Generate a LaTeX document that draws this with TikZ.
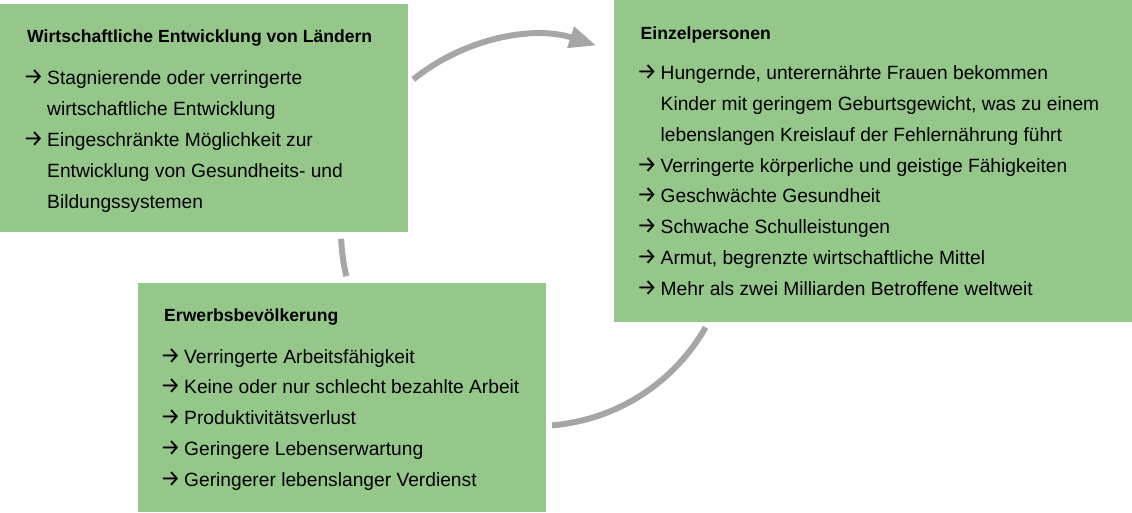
\documentclass[tikz,border=0pt]{standalone}
\usepackage{fontspec}
\setmainfont{Liberation Sans}
\newfontfamily\arrowfont{Fira Sans}
\usetikzlibrary{arrows.meta}
\definecolor{boxgreen}{RGB}{149,199,139}
\definecolor{arcgray}{RGB}{166,166,168}
\newcommand\myarr{\makebox[20pt][l]{\hspace*{-4pt}\arrowfont\fontsize{23}{23}\selectfont →}}
\begin{document}
\begin{tikzpicture}[x=1pt,y=1pt,
  greenbox/.style={fill=boxgreen,draw=none,anchor=north west,inner sep=0pt},
  titletext/.style={anchor=base west,inner sep=0pt,font=\bfseries\fontsize{17.6}{21}\selectfont},
  bodytext/.style={anchor=base west,inner sep=0pt,font=\fontsize{19.2}{23}\selectfont},
  cyclearc/.style={draw=arcgray,line width=6pt}]
\useasboundingbox (0,0) rectangle (1132,512);
% boxes
\node[greenbox,minimum width=408pt,minimum height=228pt] (b1) at (0,508) {};
\node[greenbox,minimum width=518pt,minimum height=322pt] (b2) at (614,512) {};
\node[greenbox,minimum width=408pt,minimum height=229pt] (b3) at (138,229) {};
% cycle arcs
\coordinate (c) at (536,281);
\draw[cyclearc,-{Triangle[length=27pt,width=21pt]}] ([shift={(129:195)}]c) arc[start angle=129,end angle=72,radius=195];
\draw[cyclearc] ([shift={(-29.6:195)}]c) arc[start angle=-29.6,end angle=-85.3,radius=195];
\draw[cyclearc] ([shift={(193.4:195)}]c) arc[start angle=193.4,end angle=182.3,radius=195];
% box 1 text
\node[titletext] (t1) at (27,469) {Wirtschaftliche Entwicklung von Ländern};
\node[bodytext] (t1a) at (27,427) {\myarr Stagnierende oder verringerte};
\node[bodytext] (t1b) at (47,396.2) {wirtschaftliche Entwicklung};
\node[bodytext] (t1c) at (27,365.4) {\myarr Eingeschränkte Möglichkeit zur};
\node[bodytext] (t1d) at (47,334.6) {Entwicklung von Gesundheits- und};
\node[bodytext] (t1e) at (47,303.8) {Bildungssystemen};
% box 2 text
\node[titletext] (t2) at (640.5,472) {Einzelpersonen};
\node[bodytext] (t2a) at (640.5,432) {\myarr Hungernde, unterernährte Frauen bekommen};
\node[bodytext] (t2b) at (660.5,401.25) {Kinder mit geringem Geburtsgewicht, was zu einem};
\node[bodytext] (t2c) at (660.5,370.5) {lebenslangen Kreislauf der Fehlernährung führt};
\node[bodytext] (t2d) at (640.5,339.75) {\myarr Verringerte körperliche und geistige Fähigkeiten};
\node[bodytext] (t2e) at (640.5,309) {\myarr Geschwächte Gesundheit};
\node[bodytext] (t2f) at (640.5,278.25) {\myarr Schwache Schulleistungen};
\node[bodytext] (t2g) at (640.5,247.5) {\myarr Armut, begrenzte wirtschaftliche Mittel};
\node[bodytext] (t2h) at (640.5,216.75) {\myarr Mehr als zwei Milliarden Betroffene weltweit};
% box 3 text
\node[titletext] (t3) at (164,191) {Erwerbsbevölkerung};
\node[bodytext] (t3a) at (164,149) {\myarr Verringerte Arbeitsfähigkeit};
\node[bodytext] (t3b) at (164,118.25) {\myarr Keine oder nur schlecht bezahlte Arbeit};
\node[bodytext] (t3c) at (164,87.5) {\myarr Produktivitätsverlust};
\node[bodytext] (t3d) at (164,56.75) {\myarr Geringere Lebenserwartung};
\node[bodytext] (t3e) at (164,26) {\myarr Geringerer lebenslanger Verdienst};
\end{tikzpicture}
\end{document}
